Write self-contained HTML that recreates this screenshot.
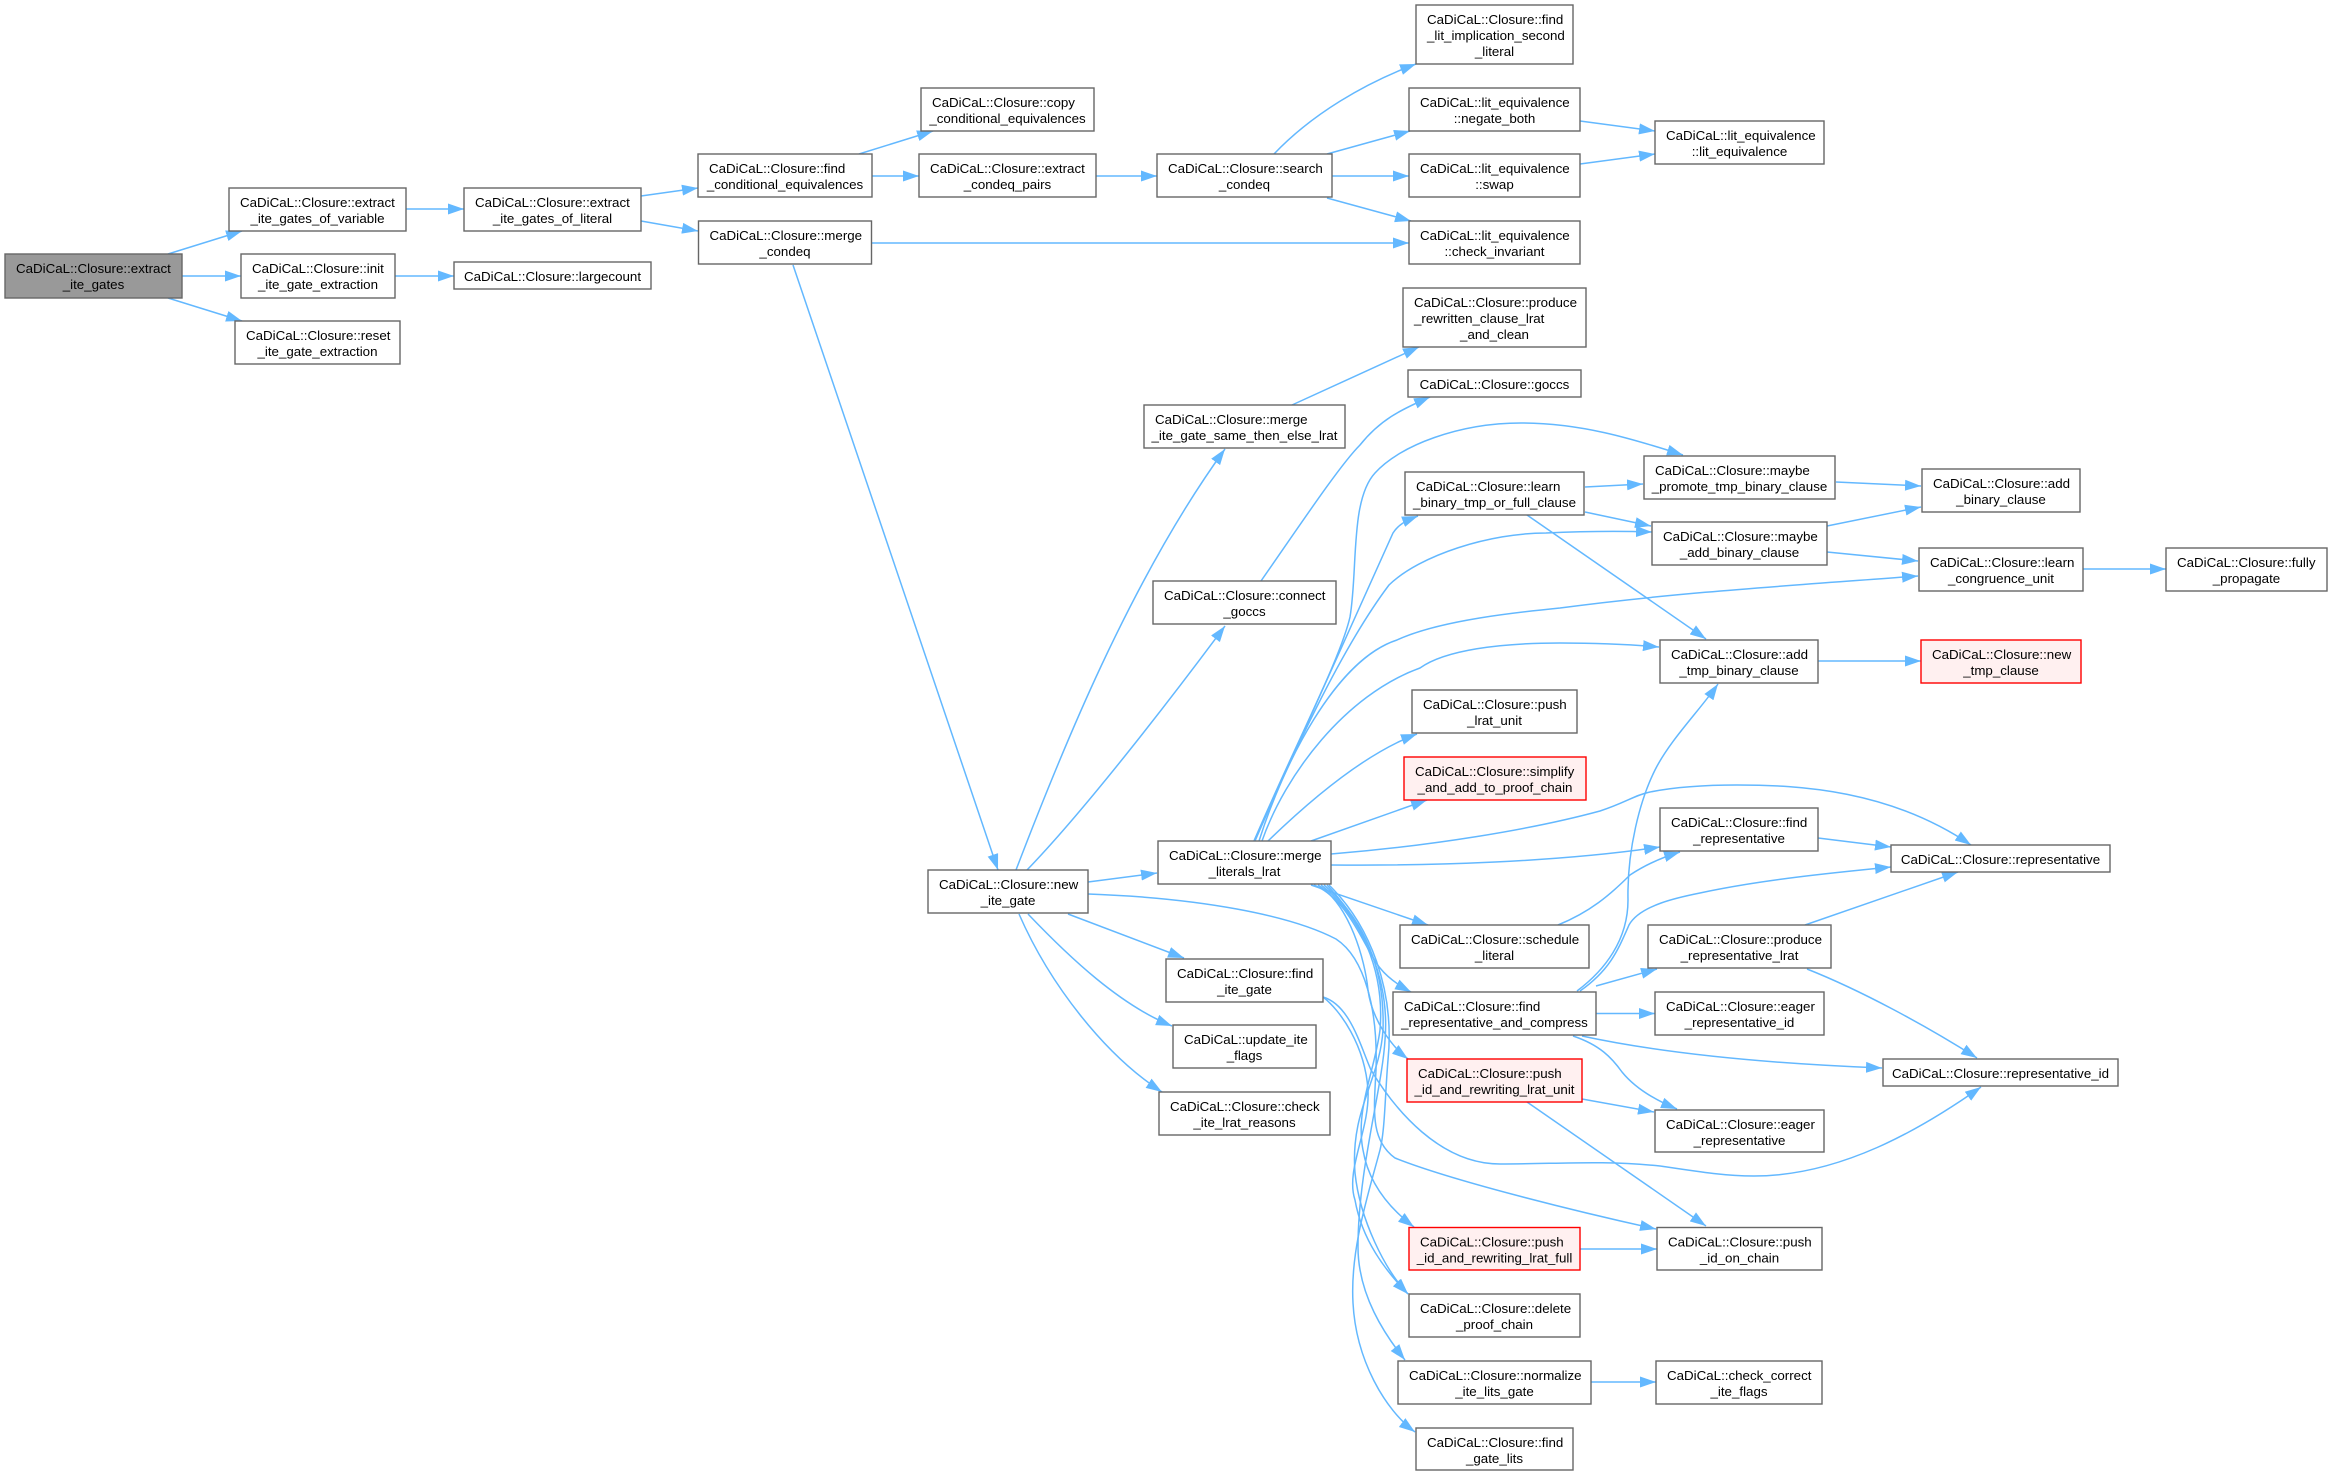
<!DOCTYPE html>
<html>
<head>
<meta charset="utf-8">
<title>CaDiCaL::Closure::extract_ite_gates</title>
<style>
html,body{margin:0;padding:0;background:#fff;width:2332px;height:1475px;overflow:hidden}
svg{display:block}
.e path{fill:none;stroke:#63b8ff;stroke-width:1.5;marker-end:url(#a)}
.n rect{fill:#fff;stroke:#666;stroke-width:1.4}
.n rect.r{fill:#fff0f0;stroke:#f00}
.n rect.m{fill:#999;stroke:#666}
text{font-family:"Liberation Sans",Arial,sans-serif;font-size:13.33px;fill:#000}
.c{text-anchor:middle}
</style>
</head>
<body>
<svg xmlns="http://www.w3.org/2000/svg" width="2332" height="1475" viewBox="0 0 2332 1475">
<defs>
<marker id="a" markerUnits="userSpaceOnUse" markerWidth="16" markerHeight="12" viewBox="0 0 16 12" refX="16" refY="6" orient="auto">
<path d="M0,0.500 L16,6 L0,11.500 z" fill="#63b8ff"/>
</marker>
</defs>
<g class="e">
<path d="M168,254 L242,231"/>
<path d="M182,276 L241,276"/>
<path d="M168,298 L242,321"/>
<path d="M406,209 L464,209"/>
<path d="M395,276 L454,276"/>
<path d="M641,196 L698,188"/>
<path d="M641,221 L698,231"/>
<path d="M859,154 L933,131"/>
<path d="M872,176 L919,176"/>
<path d="M1096,176 L1157,176"/>
<path d="M1274,154 C1312,114 1365,83 1416,64"/>
<path d="M1327,154 L1410,131"/>
<path d="M1332,176 L1409,176"/>
<path d="M1327,198 L1411,221"/>
<path d="M871,243 L1409,243"/>
<path d="M1580,121 L1655,131"/>
<path d="M1580,164 L1655,154"/>
<path d="M793,265 L998,870"/>
<path d="M1016,870 C1060,755 1130,580 1225,449"/>
<path d="M1292,405 L1419,347"/>
<path d="M1027,870 C1085,810 1170,700 1225,626"/>
<path d="M1261,581 C1300,525 1340,465 1360,445 C1380,420 1400,410 1430,397"/>
<path d="M1088,882 L1157,873"/>
<path d="M1088,894 C1200,898 1290,915 1336,939 C1365,958 1378,1010 1376,1070 C1374,1110 1370,1140 1395,1158 C1450,1180 1570,1210 1656,1229"/>
<path d="M1323,997 C1350,1005 1360,1045 1371,1070 C1395,1110 1440,1164 1500,1164 C1560,1164 1600,1160 1660,1166 C1700,1172 1725,1176 1754,1176 C1840,1176 1920,1130 1981,1087"/>
<path d="M1323,997 C1340,1010 1365,1045 1368,1090 C1370,1130 1345,1170 1355,1200 C1362,1240 1385,1270 1408,1294"/>
<path d="M1068,914 L1184,958"/>
<path d="M1028,914 C1070,958 1120,1005 1172,1026"/>
<path d="M1019,914 C1050,985 1105,1055 1162,1092"/>
<path d="M1254,841 C1300,740 1370,585 1393,533 C1398,525 1405,521 1418,516"/>
<path d="M1254,841 C1295,745 1340,660 1350,617 C1358,570 1350,500 1375,473 C1400,445 1460,423 1521,423 C1580,423 1630,438 1683,455"/>
<path d="M1255,841 C1290,760 1340,650 1389,585 C1420,555 1490,533 1546,533 C1590,531 1620,531 1652,532"/>
<path d="M1259,841 C1283,765 1335,660 1397,640 C1440,620 1520,612 1560,608 C1680,592 1800,585 1918,576"/>
<path d="M1262,841 C1285,775 1345,695 1420,668 C1445,650 1500,643 1560,643 C1590,643 1625,644 1659,647"/>
<path d="M1268,841 C1300,810 1360,755 1417,734"/>
<path d="M1311,841 L1427,800"/>
<path d="M1331,854 C1430,846 1530,830 1600,811 C1625,803 1635,795 1650,792 C1680,786 1710,785 1737,785 C1800,785 1890,790 1971,845"/>
<path d="M1331,865 C1430,866 1560,862 1660,847"/>
<path d="M1311,885 L1428,925"/>
<path d="M1314,885 C1350,900 1365,950 1380,968 C1388,978 1398,985 1411,992"/>
<path d="M1318,885 C1350,905 1365,960 1368,990 C1372,1020 1392,1047 1408,1059"/>
<path d="M1321,885 C1360,915 1385,970 1380,1030 C1375,1070 1355,1110 1363,1150 C1368,1180 1385,1205 1414,1227"/>
<path d="M1324,885 C1365,920 1385,970 1383,1030 C1380,1080 1350,1110 1355,1173 C1360,1220 1385,1270 1408,1294"/>
<path d="M1327,885 C1365,925 1390,980 1385,1040 C1382,1090 1358,1170 1358,1247 C1358,1295 1385,1335 1405,1360"/>
<path d="M1329,885 C1370,925 1395,990 1388,1060 C1385,1095 1385,1130 1380,1150 C1368,1195 1350,1250 1353,1303 C1356,1360 1385,1410 1415,1432"/>
<path d="M1585,487 L1643,484"/>
<path d="M1585,512 L1651,526"/>
<path d="M1527,515 L1706,639"/>
<path d="M1836,482 L1921,486"/>
<path d="M1827,526 L1921,507"/>
<path d="M1827,552 L1918,561"/>
<path d="M2083,569 L2166,569"/>
<path d="M1818,661 L1921,661"/>
<path d="M1818,838 L1891,847"/>
<path d="M1558,925 C1590,912 1610,895 1630,875 C1645,865 1660,858 1680,852"/>
<path d="M1577,991 C1605,970 1628,940 1628,900 C1627,850 1640,800 1655,770 C1670,740 1700,710 1718,684"/>
<path d="M1580,991 C1610,970 1618,950 1629,925 C1640,905 1680,897 1700,893 C1760,880 1830,873 1891,867"/>
<path d="M1596,986 L1657,969"/>
<path d="M1596,1013.5 L1655,1013.5"/>
<path d="M1582,1036 C1670,1055 1780,1064 1882,1068"/>
<path d="M1573,1036 C1600,1045 1612,1058 1622,1072 C1635,1088 1655,1100 1677,1109"/>
<path d="M1805,925 L1958,872"/>
<path d="M1807,969 C1860,990 1925,1025 1977,1058"/>
<path d="M1582,1099 L1654,1112"/>
<path d="M1527,1102 L1706,1226"/>
<path d="M1580,1249 L1657,1249"/>
<path d="M1591,1382 L1656,1382"/>
</g>
<g class="n">
<rect class="m" x="5" y="254" width="177" height="44"/><text x="16" y="273">CaDiCaL::Closure::extract</text><text class="c" x="93.5" y="289">_ite_gates</text>
<rect x="229" y="188" width="177" height="43"/><text x="240" y="207">CaDiCaL::Closure::extract</text><text class="c" x="317.5" y="223">_ite_gates_of_variable</text>
<rect x="241" y="254" width="154" height="44"/><text x="252" y="273">CaDiCaL::Closure::init</text><text class="c" x="318" y="289">_ite_gate_extraction</text>
<rect x="235" y="321" width="165" height="43"/><text x="246" y="340">CaDiCaL::Closure::reset</text><text class="c" x="317.5" y="356">_ite_gate_extraction</text>
<rect x="464" y="188" width="177" height="43"/><text x="475" y="207">CaDiCaL::Closure::extract</text><text class="c" x="552.5" y="223">_ite_gates_of_literal</text>
<rect x="454" y="262" width="197" height="27"/><text class="c" x="552.5" y="281">CaDiCaL::Closure::largecount</text>
<rect x="698" y="154" width="174" height="43"/><text x="709" y="173">CaDiCaL::Closure::find</text><text class="c" x="785" y="189">_conditional_equivalences</text>
<rect x="698.500" y="221" width="173" height="43"/><text x="709.500" y="240">CaDiCaL::Closure::merge</text><text class="c" x="785" y="256">_condeq</text>
<rect x="921" y="88" width="173" height="43"/><text x="932" y="107">CaDiCaL::Closure::copy</text><text class="c" x="1007.500" y="123">_conditional_equivalences</text>
<rect x="919" y="154" width="177" height="43"/><text x="930" y="173">CaDiCaL::Closure::extract</text><text class="c" x="1007.500" y="189">_condeq_pairs</text>
<rect x="1157" y="154" width="175" height="43"/><text x="1168" y="173">CaDiCaL::Closure::search</text><text class="c" x="1244.500" y="189">_condeq</text>
<rect x="1416" y="5" width="157" height="59"/><text x="1427" y="24">CaDiCaL::Closure::find</text><text x="1427" y="40">_lit_implication_second</text><text class="c" x="1494.500" y="56">_literal</text>
<rect x="1409" y="88" width="171" height="43"/><text x="1420" y="107">CaDiCaL::lit_equivalence</text><text class="c" x="1494.500" y="123">::negate_both</text>
<rect x="1409" y="154" width="171" height="43"/><text x="1420" y="173">CaDiCaL::lit_equivalence</text><text class="c" x="1494.500" y="189">::swap</text>
<rect x="1409" y="221" width="171" height="43"/><text x="1420" y="240">CaDiCaL::lit_equivalence</text><text class="c" x="1494.500" y="256">::check_invariant</text>
<rect x="1655" y="121" width="169" height="43"/><text x="1666" y="140">CaDiCaL::lit_equivalence</text><text class="c" x="1739.500" y="156">::lit_equivalence</text>
<rect x="1403" y="288" width="183" height="59"/><text x="1414" y="307">CaDiCaL::Closure::produce</text><text x="1414" y="323">_rewritten_clause_lrat</text><text class="c" x="1494.500" y="339">_and_clean</text>
<rect x="1408" y="370" width="173" height="27"/><text class="c" x="1494.500" y="389">CaDiCaL::Closure::goccs</text>
<rect x="1144" y="405" width="201" height="43"/><text x="1155" y="424">CaDiCaL::Closure::merge</text><text class="c" x="1244.500" y="440">_ite_gate_same_then_else_lrat</text>
<rect x="1153" y="581" width="183" height="43"/><text x="1164" y="600">CaDiCaL::Closure::connect</text><text class="c" x="1244.500" y="616">_goccs</text>
<rect x="1405" y="472" width="179" height="43"/><text x="1416" y="491">CaDiCaL::Closure::learn</text><text class="c" x="1494.500" y="507">_binary_tmp_or_full_clause</text>
<rect x="1412" y="690" width="165" height="43"/><text x="1423" y="709">CaDiCaL::Closure::push</text><text class="c" x="1494.500" y="725">_lrat_unit</text>
<rect class="r" x="1404" y="757" width="182" height="43"/><text x="1415" y="776">CaDiCaL::Closure::simplify</text><text class="c" x="1495" y="792">_and_add_to_proof_chain</text>
<rect x="1158" y="841" width="173" height="43"/><text x="1169" y="860">CaDiCaL::Closure::merge</text><text class="c" x="1244.500" y="876">_literals_lrat</text>
<rect x="1644" y="456" width="191" height="43"/><text x="1655" y="475">CaDiCaL::Closure::maybe</text><text class="c" x="1739.500" y="491">_promote_tmp_binary_clause</text>
<rect x="1652" y="522" width="175" height="43"/><text x="1663" y="541">CaDiCaL::Closure::maybe</text><text class="c" x="1739.500" y="557">_add_binary_clause</text>
<rect x="1922" y="469" width="158" height="43"/><text x="1933" y="488">CaDiCaL::Closure::add</text><text class="c" x="2001" y="504">_binary_clause</text>
<rect x="1919" y="548" width="164" height="43"/><text x="1930" y="567">CaDiCaL::Closure::learn</text><text class="c" x="2001" y="583">_congruence_unit</text>
<rect x="2166" y="548" width="161" height="43"/><text x="2177" y="567">CaDiCaL::Closure::fully</text><text class="c" x="2246.500" y="583">_propagate</text>
<rect x="1660" y="640" width="158" height="43"/><text x="1671" y="659">CaDiCaL::Closure::add</text><text class="c" x="1739" y="675">_tmp_binary_clause</text>
<rect class="r" x="1921" y="640" width="160" height="43"/><text x="1932" y="659">CaDiCaL::Closure::new</text><text class="c" x="2001" y="675">_tmp_clause</text>
<rect x="1660" y="808" width="158" height="43"/><text x="1671" y="827">CaDiCaL::Closure::find</text><text class="c" x="1739" y="843">_representative</text>
<rect x="1891" y="845" width="219" height="27"/><text class="c" x="2000.500" y="864">CaDiCaL::Closure::representative</text>
<rect x="928" y="870" width="160" height="43"/><text x="939" y="889">CaDiCaL::Closure::new</text><text class="c" x="1008" y="905">_ite_gate</text>
<rect x="1166" y="959" width="157" height="43"/><text x="1177" y="978">CaDiCaL::Closure::find</text><text class="c" x="1244.500" y="994">_ite_gate</text>
<rect x="1173" y="1025" width="143" height="43"/><text x="1184" y="1044">CaDiCaL::update_ite</text><text class="c" x="1244.500" y="1060">_flags</text>
<rect x="1159" y="1092" width="171" height="43"/><text x="1170" y="1111">CaDiCaL::Closure::check</text><text class="c" x="1244.500" y="1127">_ite_lrat_reasons</text>
<rect x="1400" y="925" width="189" height="43"/><text x="1411" y="944">CaDiCaL::Closure::schedule</text><text class="c" x="1494.500" y="960">_literal</text>
<rect x="1393" y="992" width="203" height="43"/><text x="1404" y="1011">CaDiCaL::Closure::find</text><text class="c" x="1494.500" y="1027">_representative_and_compress</text>
<rect class="r" x="1407" y="1059" width="175" height="43"/><text x="1418" y="1078">CaDiCaL::Closure::push</text><text class="c" x="1494.500" y="1094">_id_and_rewriting_lrat_unit</text>
<rect class="r" x="1409" y="1227.500" width="171" height="42.500"/><text x="1420" y="1246.500">CaDiCaL::Closure::push</text><text class="c" x="1494.500" y="1262.500">_id_and_rewriting_lrat_full</text>
<rect x="1409" y="1294" width="171" height="43"/><text x="1420" y="1313">CaDiCaL::Closure::delete</text><text class="c" x="1494.500" y="1329">_proof_chain</text>
<rect x="1398" y="1361" width="193" height="43"/><text x="1409" y="1380">CaDiCaL::Closure::normalize</text><text class="c" x="1494.500" y="1396">_ite_lits_gate</text>
<rect x="1416" y="1428" width="157" height="42"/><text x="1427" y="1447">CaDiCaL::Closure::find</text><text class="c" x="1494.500" y="1463">_gate_lits</text>
<rect x="1648" y="925" width="183" height="43"/><text x="1659" y="944">CaDiCaL::Closure::produce</text><text class="c" x="1739.500" y="960">_representative_lrat</text>
<rect x="1655" y="992" width="169" height="43"/><text x="1666" y="1011">CaDiCaL::Closure::eager</text><text class="c" x="1739.500" y="1027">_representative_id</text>
<rect x="1883" y="1059" width="235" height="27"/><text class="c" x="2000.500" y="1078">CaDiCaL::Closure::representative_id</text>
<rect x="1655" y="1110" width="169" height="42"/><text x="1666" y="1129">CaDiCaL::Closure::eager</text><text class="c" x="1739.500" y="1145">_representative</text>
<rect x="1657" y="1227.500" width="165" height="42.500"/><text x="1668" y="1246.500">CaDiCaL::Closure::push</text><text class="c" x="1739.500" y="1262.500">_id_on_chain</text>
<rect x="1656" y="1361" width="166" height="43"/><text x="1667" y="1380">CaDiCaL::check_correct</text><text class="c" x="1739" y="1396">_ite_flags</text>
</g>
</svg>
</body>
</html>
